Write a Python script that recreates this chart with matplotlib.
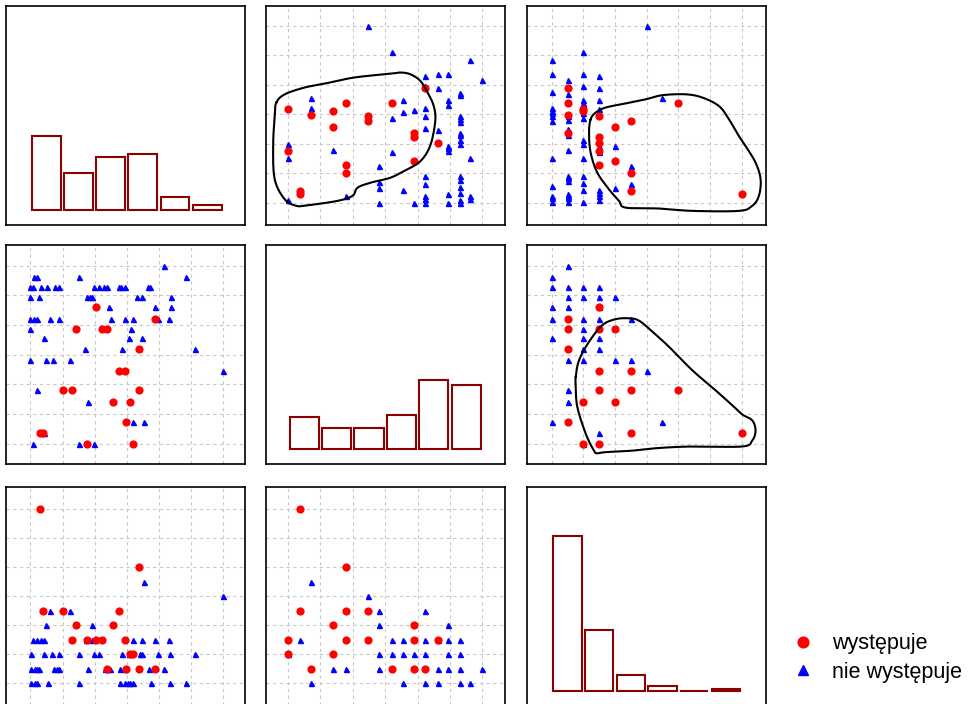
import numpy as np
import matplotlib
matplotlib.use("Agg")
import matplotlib.pyplot as plt
from matplotlib.lines import Line2D

plt.rcParams['font.family'] = ['Liberation Sans', 'DejaVu Sans']

# three measured variables, shown as a pairs plot (lower panels mirror the upper ones)
var_range = [(0, 6), (0, 6), (0, 12)]
var_lims = [(-0.76, 6.68), (-0.68, 6.70), (-1.56, 13.54)]

# group "występuje": all three values known for each point
red_v0 = [3.88, 3.38, 3.38, 3.19, 3.11, 2.98, 2.93, 2.77, 2.58, 2.37, 2.24, 2.04,
          1.75, 1.42, 1.28, 1.01, 0.38, 0.30]
red_v1 = [4.22, 1.80, 3.21, 0.00, 1.40, 0.72, 2.47, 2.47, 1.40, 3.88, 3.88, 4.62,
          0.00, 3.88, 1.80, 1.80, 0.37, 0.37]
red_v2 = [1, 8, 1, 2, 2, 1, 3, 5, 4, 1, 3, 3, 3, 4, 3, 5, 5, 12]

# group "nie występuje": read panel by panel (stacked marks hide each other)
blue_a_v1 = [2.47, 3.21, 5.62, 4.22, 4.62, 4.95, 6.00, 4.22, 4.62, 5.30, 5.30, 4.95,
             4.95, 0.72, 0.72, 3.56, 3.56, 3.88, 4.22, 4.22, 3.21, 5.30, 5.30, 5.30,
             4.22, 4.62, 5.30, 5.30, 5.30, 5.30, 4.95, 4.95, 4.95, 0.00, 0.00, 1.40,
             3.21, 5.62, 2.82, 4.22, 4.22, 5.30, 5.30, 5.30, 5.30, 2.82, 2.82, 3.56,
             0.37, 1.80, 0.00, 4.22, 4.22, 4.95, 5.62, 5.62, 2.82, 3.88, 4.22, 4.95,
             5.30, 5.30]
blue_a_v0 = [6.00, 5.12, 4.85, 4.30, 4.37, 4.37, 4.17, 3.96, 3.89, 3.71, 3.66, 3.48,
             3.33, 3.54, 3.20, 3.48, 3.07, 3.14, 3.20, 2.93, 2.86, 2.93, 2.83, 2.75,
             2.52, 2.46, 2.38, 2.30, 2.12, 1.98, 1.92, 1.85, 1.75, 1.98, 1.51, 1.78,
             1.71, 1.51, 1.23, 0.89, 0.62, 0.89, 0.76, 0.53, 0.34, 0.71, 0.49, 0.43,
             0.43, 0.22, 0.09, 0.22, 0.11, 0.28, 0.22, 0.11, 0.00, 0.00, 0.00, 0.00,
             0.00, 0.08]

blue_b_v2 = [6, 2, 0, 0, 2, 3, 1, 2, 3, 0, 1, 2, 3, 2, 7, 0, 0, 0, 0, 0, 2, 2, 3, 1,
             1, 1, 1, 1, 1, 2, 2, 3, 3, 4, 0, 2, 1, 1, 1, 2, 2, 2, 0, 0, 0, 0, 1, 1,
             1, 1, 3, 3, 3, 3, 2, 4, 5, 5]
blue_b_v0 = [6.00, 5.12, 4.85, 4.36, 4.36, 4.30, 4.17, 3.96, 3.89, 3.75, 3.68, 3.48,
             3.48, 3.40, 3.54, 3.20, 3.11, 3.03, 2.93, 2.78, 3.06, 2.86, 3.19, 2.93,
             2.80, 2.49, 2.40, 2.31, 1.78, 2.12, 1.98, 1.92, 1.73, 1.91, 1.51, 1.51,
             0.89, 0.82, 0.74, 0.89, 0.68, 0.42, 0.55, 0.22, 0.15, 0.01, 0.28, 0.22,
             0.15, 0.01, 0.42, 0.34, 0.22, 0.08, 0.01, 0.49, 1.23, 0.62]

blue_c_v2 = [1, 0, 0, 1, 2, 3, 1, 2, 3, 4, 0, 1, 3, 0, 2, 3, 5, 2, 0, 2, 3, 2, 3,
             1, 2, 4, 5, 6, 1, 1, 0, 7, 3, 2]
blue_c_v1 = [6.00, 5.62, 5.30, 5.30, 5.30, 5.30, 4.95, 4.95, 4.95, 4.95, 4.62, 4.62,
             4.62, 4.22, 4.22, 4.22, 4.22, 3.88, 3.56, 3.56, 3.56, 3.21, 3.21, 2.82,
             2.82, 2.82, 2.82, 2.47, 1.80, 1.40, 0.72, 0.72, 0.37, 0.00]

# histogram counts on the diagonal (6 bins per variable)
hist_v0 = [28, 14, 20, 21, 5, 2]
hist_v1 = [12, 8, 8, 13, 26, 24]
hist_v2 = [58, 23, 6, 2, 0, 1]

# outlines around the "występuje" points (upper panels)
curve_a_x = [-0.36, -0.10, 0.51, 1.12, 2.04, 3.17, 3.48, 3.78, 4.09, 4.34, 4.50, 4.55,
             4.45, 4.29, 4.04, 3.68, 3.17, 2.56, 2.15, 1.99, 1.53, 0.61, 0.26, -0.10,
             -0.41, -0.46, -0.41]
curve_a_y = [3.40, 3.68, 3.91, 4.04, 4.25, 4.38, 4.42, 4.36, 4.13, 3.68, 3.28, 2.83,
             2.15, 1.70, 1.36, 1.13, 0.85, 0.68, 0.51, 0.23, 0.06, -0.09, -0.11, 0.11,
             0.79, 1.92, 2.94]
curve_b_x = [2.46, 2.78, 3.41, 4.67, 5.94, 6.99, 8.46, 9.52, 10.57, 11.2, 11.83, 12.25,
             12.88, 13.2, 13.09, 12.67, 11.83, 8.88, 6.78, 4.67, 4.25, 3.62, 2.88, 2.46,
             2.36]
curve_b_y = [2.83, 3.06, 3.23, 3.37, 3.51, 3.65, 3.68, 3.57, 3.28, 2.83, 2.26, 1.92,
             1.36, 0.79, 0.23, -0.11, -0.28, -0.28, -0.20, -0.17, 0.06, 0.45, 1.02, 1.70,
             2.38]
curve_c_x = [1.52, 1.73, 2.36, 3.20, 4.04, 4.88, 5.52, 6.36, 7.41, 8.88, 10.36, 11.41,
             12.04, 12.67, 12.88, 12.67, 12.04, 8.88, 6.78, 5.09, 3.41, 2.88, 2.67, 2.15,
             1.62, 1.52]
curve_c_y = [2.26, 2.82, 3.44, 4.00, 4.20, 4.23, 4.15, 3.78, 3.27, 2.48, 1.80, 1.30,
             0.99, 0.79, 0.45, 0.11, -0.09, -0.09, -0.14, -0.23, -0.28, -0.32, -0.23, 0.34,
             1.24, 1.92]

RED = '#ff0000'
BLUE = '#0000ff'
BAR = '#8b0000'


def closed_spline(xs, ys, n=16):
    """Closed Catmull-Rom curve through the given points."""
    p = np.column_stack([xs, ys])
    m = len(p)
    t = np.linspace(0, 1, n, endpoint=False)[:, None]
    segs = []
    for i in range(m):
        p0, p1, p2, p3 = p[i - 1], p[i], p[(i + 1) % m], p[(i + 2) % m]
        segs.append(0.5 * (2 * p1 + (p2 - p0) * t
                           + (2 * p0 - 5 * p1 + 4 * p2 - p3) * t ** 2
                           + (3 * p1 - p0 - 3 * p2 + p3) * t ** 3))
    out = np.vstack(segs + [segs[0][:1]])
    return out[:, 0], out[:, 1]


def style_box(ax):
    ax.tick_params(length=0, labelbottom=False, labelleft=False)
    for s in ax.spines.values():
        s.set_linewidth(1.2)
        s.set_color('black')


def scatter_panel(ax, xi, yi, bx, by, rx, ry, curve=None):
    ax.set_xlim(var_lims[xi])
    ax.set_ylim(var_lims[yi])
    ax.set_xticks(np.linspace(*var_range[xi], 7))
    ax.set_yticks(np.linspace(*var_range[yi], 7))
    ax.set_axisbelow(True)
    ax.grid(True, color='#c8c8c8', linestyle=(0, (3, 3)), linewidth=0.8)
    ax.plot(bx, by, ls='none', marker='^', color=BLUE, markersize=3.6, zorder=3)
    ax.plot(rx, ry, ls='none', marker='o', color=RED, markersize=4.9, zorder=4)
    if curve is not None:
        cx, cy = closed_spline(*curve)
        ax.plot(cx, cy, color='black', linewidth=1.5, zorder=5)
    style_box(ax)


def hist_panel(ax, vi, counts):
    lo, hi = var_range[vi]
    edges = np.linspace(lo, hi, len(counts) + 1)
    width = edges[1] - edges[0]
    ax.bar(edges[:-1] + width / 2, counts, width=0.9 * width, fill=False,
           edgecolor=BAR, linewidth=1.5)
    ax.set_xlim(var_lims[vi])
    ax.set_ylim(-5.5, 76.5)
    ax.set_xticks([])
    ax.set_yticks([])
    style_box(ax)


W, H = 971, 704
fig = plt.figure(figsize=(W / 100, H / 100), dpi=100)

col_left = [6, 266, 527]
row_top = [6, 245, 487]
pw, ph = 239, 219
axes = [[fig.add_axes([col_left[c] / W, 1 - (row_top[r] + ph) / H, pw / W, ph / H])
         for c in range(3)] for r in range(3)]

red = [red_v0, red_v1, red_v2]

hist_panel(axes[0][0], 0, hist_v0)
hist_panel(axes[1][1], 1, hist_v1)
hist_panel(axes[2][2], 2, hist_v2)

# upper triangle: x = column variable, y = row variable
scatter_panel(axes[0][1], 1, 0, blue_a_v1, blue_a_v0, red[1], red[0], (curve_a_x, curve_a_y))
scatter_panel(axes[0][2], 2, 0, blue_b_v2, blue_b_v0, red[2], red[0], (curve_b_x, curve_b_y))
scatter_panel(axes[1][2], 2, 1, blue_c_v2, blue_c_v1, red[2], red[1], (curve_c_x, curve_c_y))
# lower triangle: same pairs, axes swapped
scatter_panel(axes[1][0], 0, 1, blue_a_v0, blue_a_v1, red[0], red[1])
scatter_panel(axes[2][0], 0, 2, blue_b_v0, blue_b_v2, red[0], red[2])
scatter_panel(axes[2][1], 1, 2, blue_c_v1, blue_c_v2, red[1], red[2])

handles = [Line2D([], [], ls='none', marker='o', color=RED, markersize=7.7),
           Line2D([], [], ls='none', marker='^', color=BLUE, markersize=6.5)]
fig.legend(handles, ['występuje', 'nie występuje'], loc='center left',
           bbox_to_anchor=(792 / W, 1 - 658 / H), frameon=False, fontsize=15.5,
           handlelength=1.0, handletextpad=0.85, labelspacing=0.33,
           borderpad=0, borderaxespad=0)

fig.savefig('out.png', dpi=100)
